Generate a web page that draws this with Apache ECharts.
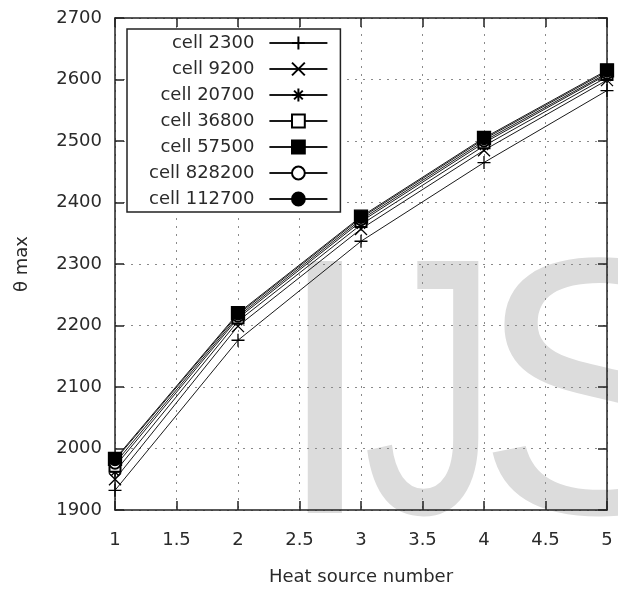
<!DOCTYPE html>
<html>
<head>
<meta charset="utf-8">
<script src="https://cdn.jsdelivr.net/npm/echarts@6/dist/echarts.min.js"></script>
<style>
html,body{margin:0;padding:0;background:#fff;}
#chart{width:618px;height:591px;}
</style>
</head>
<body>
<div id="chart"></div>
<script>
// Data
const heatSources = [1, 2, 3, 4, 5];
const cell2300   = [1932, 2176, 2337, 2465, 2582];
const cell9200   = [1950, 2199, 2357, 2485, 2599];
const cell20700  = [1962, 2207, 2364, 2492, 2604];
const cell36800  = [1971, 2212, 2369, 2497, 2608];
const cell57500  = [1983, 2220, 2377, 2505, 2615];
const cell828200 = [1976, 2215, 2372, 2500, 2610];
const cell112700 = [1981, 2218, 2375, 2503, 2613];
const seriesNames = ['cell 2300', 'cell 9200', 'cell 20700', 'cell 36800', 'cell 57500', 'cell 828200', 'cell 112700'];
const seriesValues = [cell2300, cell9200, cell20700, cell36800, cell57500, cell828200, cell112700];
const xTickMin = 1, xTickMax = 5, xTickStep = 0.5;
const yTickMin = 1900, yTickMax = 2700, yTickStep = 100;
const xAxisTitle = 'Heat source number';
const yAxisTitle = 'θ max';
const watermark = ['I', 'J', 'S'];

const symbols = [
  'path://M5,0 L5,10 M0,5 L10,5',
  'path://M0,0 L10,10 M10,0 L0,10',
  'path://M5,0 L5,10 M0,5 L10,5 M1.6,1.6 L8.4,8.4 M8.4,1.6 L1.6,8.4',
  'emptyRect',
  'rect',
  'emptyCircle',
  'circle'
];
const symbolSizes = [13, 12, 12, 11, 13, 11, 11];

const FONT = 'DejaVu Sans';
const TXT = '#2a2a2a';
const AX = '#222';

const chart = echarts.init(document.getElementById('chart'), null, {renderer: 'canvas'});

const series = seriesNames.map((name, i) => ({
  name: name,
  type: 'line',
  data: heatSources.map((x, j) => [x, seriesValues[i][j]]),
  symbol: symbols[i],
  symbolSize: symbolSizes[i],
  showAllSymbol: true,
  lineStyle: {color: '#1a1a1a', width: 1},
  itemStyle: {color: '#000', borderColor: '#000', borderWidth: 1.3},
  emphasis: {disabled: true},
  animation: false,
  z: 3
}));

const axisCommon = {
  type: 'value',
  axisLine: {show: true, lineStyle: {color: AX, width: 1.5}},
  axisTick: {show: true, inside: true, length: 9, lineStyle: {color: AX, width: 1.5}},
};

const wmLeft = [274, 363, 476];
const wmScaleX = [1, 0.74, 1];
const wmFont = '366px "Liberation Sans"';

const option = {
  backgroundColor: '#fff',
  animation: false,
  grid: {left: 115, right: 11, top: 18, bottom: 78, containLabel: false},
  xAxis: [
    Object.assign({}, axisCommon, {
      position: 'bottom',
      min: xTickMin, max: xTickMax, interval: xTickStep,
      name: xAxisTitle, nameLocation: 'middle', nameGap: 58,
      nameTextStyle: {fontFamily: FONT, fontSize: 18, color: TXT},
      axisLabel: {fontFamily: FONT, fontSize: 18, color: TXT, margin: 21},
      splitLine: {show: true, lineStyle: {color: '#8a8a8a', width: 1, type: [2, 6]}}
    }),
    Object.assign({}, axisCommon, {
      position: 'top',
      min: xTickMin, max: xTickMax, interval: xTickStep,
      axisLabel: {show: false},
      splitLine: {show: false}
    })
  ],
  yAxis: [
    Object.assign({}, axisCommon, {
      position: 'left',
      min: yTickMin, max: yTickMax, interval: yTickStep,
      name: yAxisTitle, nameLocation: 'middle', nameGap: 84, nameRotate: 90,
      nameTextStyle: {fontFamily: FONT, fontSize: 18, color: TXT},
      axisLabel: {fontFamily: FONT, fontSize: 18, color: TXT, margin: 13,
                  formatter: v => String(v)},
      splitLine: {show: true, lineStyle: {color: '#8a8a8a', width: 1, type: [2, 6]}}
    }),
    Object.assign({}, axisCommon, {
      position: 'right',
      min: yTickMin, max: yTickMax, interval: yTickStep,
      axisLabel: {show: false},
      splitLine: {show: false}
    })
  ],
  legend: {
    show: true,
    data: seriesNames,
    orient: 'vertical',
    align: 'right',
    left: 127,
    top: 29,
    itemWidth: 58,
    itemHeight: 16,
    itemGap: 8,
    padding: [5, 12, 4, 22],
    backgroundColor: '#fff',
    borderColor: AX,
    borderWidth: 1.5,
    borderRadius: 0,
    selectedMode: false,
    textStyle: {fontFamily: FONT, fontSize: 18, color: TXT, padding: [0, 10, 0, 0]},
    z: 10
  },
  graphic: watermark.map((ch, i) => ({
    type: 'text', left: wmLeft[i], top: 229, z: -100, silent: true,
    scaleX: wmScaleX[i],
    style: {text: ch, font: wmFont, fill: '#dcdcdc'}
  })),
  series: series
};
chart.setOption(option);
</script>
</body>
</html>
